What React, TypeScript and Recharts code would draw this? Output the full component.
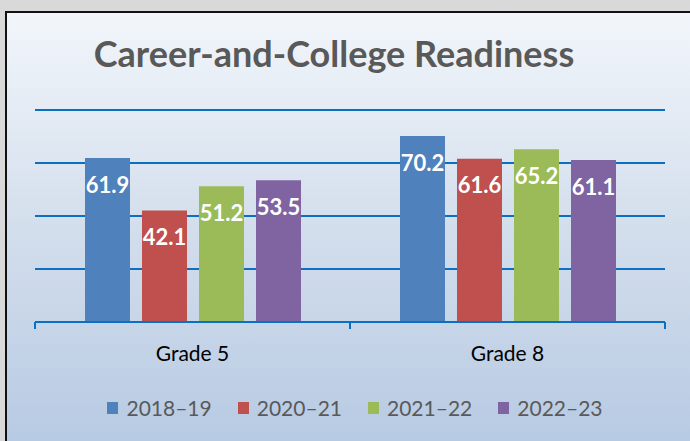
import { BarChart, Bar, XAxis, YAxis, CartesianGrid, Legend, LabelList } from 'recharts';

const grades = ['Grade 5', 'Grade 8'];
const years = ['2018–19', '2020–21', '2021–22', '2022–23'];
const y2018_19 = [61.9, 70.2];
const y2020_21 = [42.1, 61.6];
const y2021_22 = [51.2, 65.2];
const y2022_23 = [53.5, 61.1];
const yTicks = [0, 20, 40, 60, 80];

const colors = ['#4F81BD', '#C0504D', '#9BBB59', '#8064A2'];
const seriesKeys = ['y2018_19', 'y2020_21', 'y2021_22', 'y2022_23'];
const FONT = 'Lato, "Open Sans", sans-serif';
const BLUE_LINE = '#0B70C2';
const TICK_SIZE = 6;
const TICK_MARGIN = 18;

const chartData = grades.map((grade, i) => ({
  grade,
  y2018_19: y2018_19[i],
  y2020_21: y2020_21[i],
  y2021_22: y2021_22[i],
  y2022_23: y2022_23[i],
}));

// category label plus tick marks on the band edges (Excel style)
function GradeTick(props: any) {
  const { x, y, payload, index, visibleTicksCount } = props;
  const half = payload?.offset ?? 0;
  const axisY = y - TICK_SIZE - TICK_MARGIN;
  const isLast = index === (visibleTicksCount ?? grades.length) - 1;
  return (
    <g>
      <line x1={x - half} x2={x - half} y1={axisY} y2={axisY + 7} stroke={BLUE_LINE} strokeWidth={2} />
      {isLast && <line x1={x + half} x2={x + half} y1={axisY} y2={axisY + 7} stroke={BLUE_LINE} strokeWidth={2} />}
      <text x={x} y={y} dy="0.71em" textAnchor="middle" fill="#000" fontSize={21} fontFamily={FONT}>
        {payload.value}
      </text>
    </g>
  );
}

function LegendContent({ payload }: { payload?: any[] }) {
  return (
    <div style={{ display: 'flex', justifyContent: 'center', alignItems: 'center', gap: 26 }}>
      {(payload ?? []).map((entry) => (
        <div key={entry.value} style={{ display: 'flex', alignItems: 'center' }}>
          <span style={{ width: 11, height: 12, background: entry.color, marginRight: 8, display: 'inline-block' }} />
          <span style={{ fontFamily: FONT, fontSize: 21, color: '#595959', lineHeight: '24px' }}>{entry.value}</span>
        </div>
      ))}
    </div>
  );
}

export default function App() {
  return (
    <div style={{ position: 'absolute', left: 0, top: 0, width: 690, height: 441, overflow: 'hidden', background: '#d9d9d9' }}>
      {/* frame: grey strip, black top + left border, gradient fill */}
      <div
        style={{
          position: 'absolute',
          left: 5,
          top: 11,
          width: 685,
          height: 430,
          borderTop: '2px solid #111',
          borderLeft: '2px solid #111',
          background: 'linear-gradient(to bottom, #f2f6fb 0%, #d3deec 50%, #b7cae3 100%)',
        }}
      />
      <div
        style={{
          position: 'absolute',
          left: 0,
          top: 32,
          width: 668,
          textAlign: 'center',
          fontFamily: FONT,
          fontWeight: 'bold',
          fontSize: 36,
          lineHeight: 1.2,
          color: '#595959',
        }}
      >
        Career-and-College Readiness
      </div>
      <div style={{ position: 'absolute', left: 0, top: 0 }}>
        <BarChart
          width={690}
          height={441}
          data={chartData}
          margin={{ top: 110, right: 25, bottom: 118, left: 35 }}
          barCategoryGap={50}
          barGap={12}
        >
          <CartesianGrid vertical={false} stroke={BLUE_LINE} strokeWidth={2} />
          <YAxis hide domain={[0, 80]} ticks={yTicks} width={0} />
          <XAxis
            dataKey="grade"
            height={1}
            interval={0}
            axisLine={{ stroke: BLUE_LINE, strokeWidth: 2 }}
            tickLine={false}
            tickSize={TICK_SIZE}
            tickMargin={TICK_MARGIN}
            tick={<GradeTick />}
          />
          <Legend
            verticalAlign="middle"
            layout="horizontal"
            content={<LegendContent />}
            wrapperStyle={{ top: 396, left: 20, width: 670 }}
          />
          {seriesKeys.map((key, i) => (
            <Bar key={key} dataKey={key} name={years[i]} fill={colors[i]} isAnimationActive={false}>
              <LabelList
                dataKey={key}
                position="insideTop"
                offset={19}
                fill="#fff"
                style={{ fontFamily: FONT, fontWeight: 'bold', fontSize: 22 }}
              />
            </Bar>
          ))}
        </BarChart>
      </div>
    </div>
  );
}
